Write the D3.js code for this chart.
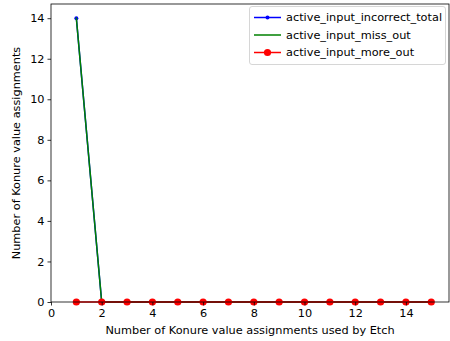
<!DOCTYPE html>
<html>
<head>
<meta charset="utf-8">
<script src="https://cdn.jsdelivr.net/npm/d3@7"></script>
<style>
  html, body { margin: 0; padding: 0; background: #fff; }
  svg { display: block; font-family: "DejaVu Sans", sans-serif; }
</style>
</head>
<body>
<svg id="chart" width="450" height="341"></svg>
<script>
// Number of value assignments used by Etch
const xs = [1, 2, 3, 4, 5, 6, 7, 8, 9, 10, 11, 12, 13, 14, 15];
const incorrectTotal = [14, 0, 0, 0, 0, 0, 0, 0, 0, 0, 0, 0, 0, 0, 0];
const missOut = [14, 0, 0, 0, 0, 0, 0, 0, 0, 0, 0, 0, 0, 0, 0];
const moreOut = [0, 0, 0, 0, 0, 0, 0, 0, 0, 0, 0, 0, 0, 0, 0];
const xTicks = [0, 2, 4, 6, 8, 10, 12, 14];
const yTicks = [0, 2, 4, 6, 8, 10, 12, 14];
const seriesNames = ["active_input_incorrect_total", "active_input_miss_out", "active_input_more_out"];

const FS = 11.3;
const svg = d3.select("#chart");
const m = { left: 51, right: 449, top: 4, bottom: 302 };

const x = d3.scaleLinear().domain([0, 15.7]).range([m.left, m.right]);
const y = d3.scaleLinear().domain([0, 14.7]).range([m.bottom, m.top]);

const series = [
  { name: seriesNames[0], values: incorrectTotal, color: "#0000ff", r: 2 },
  { name: seriesNames[1], values: missOut, color: "#008000", r: 0 },
  { name: seriesNames[2], values: moreOut, color: "#ff0000", r: 3.6 }
];

svg.append("clipPath").attr("id", "plotclip")
  .append("rect").attr("x", m.left).attr("y", m.top - 5)
  .attr("width", m.right - m.left + 5).attr("height", m.bottom - m.top + 10);

const line = d3.line().x((d, i) => x(xs[i])).y(d => y(d));
const plot = svg.append("g").attr("clip-path", "url(#plotclip)");

series.forEach(s => {
  plot.append("path").datum(s.values)
    .attr("d", line).attr("fill", "none")
    .attr("stroke", s.color).attr("stroke-width", 1.5)
    .attr("stroke-linejoin", "round").attr("stroke-linecap", "square");
  if (s.r > 0) {
    plot.selectAll(null).data(s.values).enter().append("circle")
      .attr("cx", (d, i) => x(xs[i])).attr("cy", d => y(d))
      .attr("r", s.r).attr("fill", s.color);
  }
});

// Axes
const xAxis = d3.axisBottom(x).tickValues(xTicks).tickSize(3.5).tickPadding(3).tickFormat(d3.format("d"));
const yAxis = d3.axisLeft(y).tickValues(yTicks).tickSize(3.5).tickPadding(3).tickFormat(d3.format("d"));

const gx = svg.append("g").attr("transform", `translate(0,${m.bottom})`).call(xAxis);
const gy = svg.append("g").attr("transform", `translate(${m.left},0)`).call(yAxis);
[gx, gy].forEach(g => {
  g.select(".domain").remove();
  g.selectAll("text").attr("font-size", FS).attr("fill", "#000").attr("font-family", "DejaVu Sans");
  g.selectAll("line").attr("stroke", "#000").attr("stroke-width", 0.8);
});

// Frame
svg.append("rect").attr("x", m.left).attr("y", m.top)
  .attr("width", m.right - m.left).attr("height", m.bottom - m.top)
  .attr("fill", "none").attr("stroke", "#000").attr("stroke-width", 0.8);

// Axis titles
svg.append("text").attr("x", (m.left + m.right) / 2).attr("y", 334)
  .attr("text-anchor", "middle").attr("font-size", FS).attr("fill", "#000")
  .text("Number of Konure value assignments used by Etch");
svg.append("text").attr("transform", `translate(20,${(m.top + m.bottom) / 2}) rotate(-90)`)
  .attr("text-anchor", "middle").attr("font-size", FS).attr("fill", "#000")
  .text("Number of Konure value assignments");

// Legend
const lg = svg.append("g");
lg.append("rect").attr("x", 249.5).attr("y", 6.5).attr("width", 196).attr("height", 58)
  .attr("rx", 2.5).attr("fill", "#fff").attr("fill-opacity", 0.8)
  .attr("stroke", "#cccccc").attr("stroke-width", 0.8);
series.forEach((s, i) => {
  const cy = 17.5 + i * 17.5;
  lg.append("line").attr("x1", 254).attr("x2", 281).attr("y1", cy).attr("y2", cy)
    .attr("stroke", s.color).attr("stroke-width", 1.5);
  if (s.r > 0) {
    lg.append("circle").attr("cx", 267.5).attr("cy", cy).attr("r", s.r).attr("fill", s.color);
  }
  lg.append("text").attr("x", 286).attr("y", cy).attr("dy", "0.35em")
    .attr("font-size", FS).attr("fill", "#000").text(s.name);
});
</script>
</body>
</html>
